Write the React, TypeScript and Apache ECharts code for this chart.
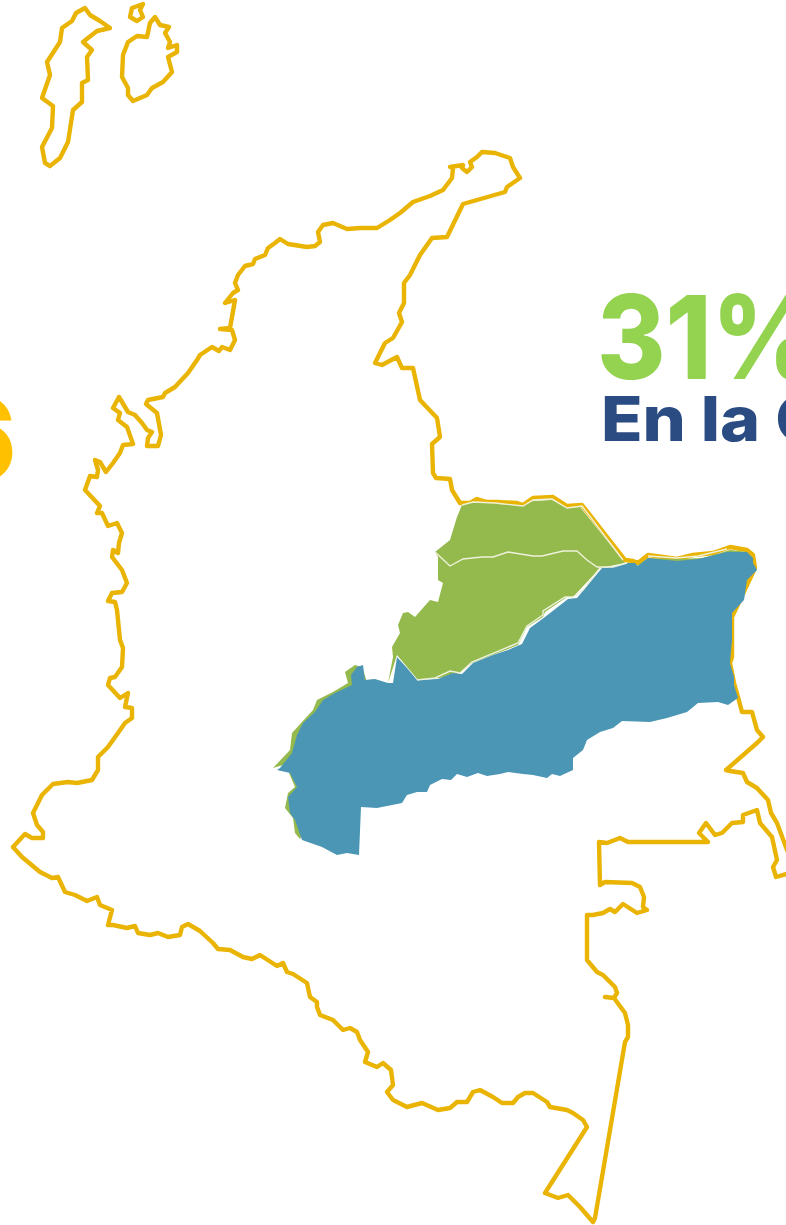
import React, { useEffect, useRef } from "react";
import * as echarts from "echarts";

type P = number[];
const W = 786;
const H = 1225;

const mainland: P[] = [[463,204],[505,192],[507,187],[520,178],[513,167],[510,158],[495,153],[482,152],[477,157],[470,162],[472,167],[467,172],[462,168],[463,165],[450,167],[453,168],[452,178],[443,190],[430,196],[413,202],[400,213],[390,220],[377,228],[360,228],[347,229],[333,223],[323,225],[318,232],[320,242],[315,246],[307,247],[288,244],[280,239],[275,243],[268,248],[265,255],[255,259],[253,264],[245,266],[238,275],[235,283],[238,290],[233,293],[225,303],[235,300],[230,328],[220,329],[232,330],[235,340],[230,350],[222,347],[219,351],[212,347],[200,355],[197,360],[188,373],[175,387],[165,393],[163,397],[148,400],[146,404],[157,413],[161,435],[158,446],[147,446],[148,438],[152,432],[147,430],[142,423],[135,415],[128,412],[119,397],[113,408],[120,413],[118,420],[127,427],[133,444],[123,445],[120,453],[113,463],[106,472],[100,462],[95,460],[98,470],[97,477],[90,476],[85,490],[100,506],[97,513],[102,513],[108,526],[117,523],[122,533],[119,543],[118,553],[113,550],[112,557],[122,570],[127,583],[122,592],[112,593],[108,601],[115,602],[117,610],[120,640],[123,648],[122,667],[115,677],[110,678],[108,685],[120,698],[128,693],[125,707],[132,708],[132,718],[125,723],[118,733],[108,747],[98,757],[98,770],[92,780],[77,783],[68,782],[53,784],[42,795],[33,813],[37,825],[43,832],[43,838],[32,838],[25,834],[13,847],[22,857],[28,862],[40,872],[52,878],[58,877],[65,892],[75,895],[87,901],[97,897],[100,905],[112,910],[108,925],[113,925],[127,928],[135,926],[138,933],[150,935],[158,933],[168,937],[180,935],[182,927],[188,924],[200,931],[213,943],[218,949],[230,950],[243,957],[252,959],[260,955],[277,966],[283,963],[287,972],[293,974],[307,983],[310,997],[317,1002],[317,1007],[320,1015],[333,1020],[343,1030],[350,1028],[357,1032],[360,1040],[368,1052],[365,1062],[377,1067],[383,1063],[391,1070],[393,1085],[387,1092],[393,1100],[407,1107],[422,1103],[438,1110],[450,1108],[457,1102],[467,1102],[473,1092],[480,1090],[493,1097],[502,1103],[513,1103],[518,1097],[525,1093],[533,1093],[547,1102],[550,1107],[567,1110],[573,1113],[583,1120],[587,1127],[545,1193],[558,1198],[568,1195],[580,1207],[593,1222],[595,1218],[625,1042],[628,1037],[628,1025],[625,1013],[614,998],[605,997],[614,998],[617,993],[615,987],[603,975],[597,972],[587,960],[587,915],[593,915],[603,913],[610,909],[615,912],[623,904],[637,913],[647,910],[643,907],[644,897],[640,887],[632,883],[605,882],[600,885],[599,842],[607,843],[620,838],[628,842],[708,842],[699,833],[706,823],[715,835],[722,833],[732,823],[743,822],[743,815],[757,810],[760,823],[772,837],[777,860],[773,867],[776,877],[790,873],[790,858],[777,823],[771,813],[768,800],[757,788],[747,782],[743,773],[730,771],[726,770],[757,743],[763,737],[757,730],[752,712],[742,712],[738,697],[734,683],[730,663],[732,657],[732,617],[755,568],[753,555],[747,550],[730,547],[713,553],[693,555],[677,559],[663,557],[648,555],[638,563],[633,561],[625,560],[582,505],[567,506],[553,497],[533,498],[523,505],[517,503],[497,502],[487,502],[477,499],[470,503],[460,503],[452,490],[450,479],[436,478],[433,473],[432,444],[440,437],[437,418],[420,400],[413,368],[402,368],[397,357],[382,365],[375,363],[385,343],[393,338],[402,322],[399,313],[404,303],[404,283],[410,275],[420,255],[432,238],[447,237]];
const islandWest: P[] = [[85,8],[76,13],[72,21],[62,28],[60,42],[47,62],[50,75],[42,98],[53,106],[52,128],[42,147],[45,163],[50,166],[60,158],[68,142],[73,110],[82,102],[82,83],[88,80],[87,57],[92,50],[83,42],[88,38],[97,31],[110,28],[100,21],[90,15]];
const islandSmall: P[] = [[143,4],[132,8],[130,17],[137,21],[143,17],[140,10]];
const islandEast: P[] = [[155,17],[150,23],[147,37],[137,36],[128,42],[123,55],[122,77],[128,88],[128,95],[133,101],[147,95],[152,88],[163,82],[172,72],[168,57],[177,52],[177,45],[168,48],[170,42],[165,33],[169,27],[160,25]];
const greenArea: P[] = [[462,505],[473,502],[523,506],[533,501],[552,500],[567,508],[580,507],[625,563],[600,568],[573,597],[567,597],[545,612],[543,617],[527,627],[518,645],[472,663],[460,673],[440,678],[418,680],[397,655],[388,683],[393,657],[392,647],[400,633],[398,625],[403,613],[408,612],[415,617],[430,600],[438,602],[443,583],[438,580],[438,557],[435,552],[450,540],[453,530],[457,517]];
const greenSliver: P[] = [[273,768],[290,750],[292,733],[302,722],[313,710],[317,700],[333,692],[348,683],[345,672],[355,665],[362,667],[367,682],[372,679],[380,700],[300,839],[295,833],[293,818],[285,808],[288,793],[295,787],[289,773],[300,760]];
const greenRim: P[] = [[638,565],[648,558],[677,559],[703,558],[730,550],[748,552],[745,560],[640,570]];
const blueArea: P[] = [[280,768],[292,753],[297,735],[303,723],[315,712],[323,700],[335,693],[352,685],[351,675],[357,667],[363,665],[365,680],[375,679],[388,683],[393,683],[397,657],[407,668],[417,680],[438,679],[453,673],[462,674],[473,663],[493,655],[508,650],[522,644],[530,628],[545,617],[568,599],[577,598],[602,568],[613,567],[627,563],[635,563],[638,566],[648,558],[677,561],[698,559],[727,552],[747,552],[753,558],[753,563],[757,570],[747,580],[744,600],[732,613],[732,640],[730,663],[734,677],[734,685],[738,698],[728,705],[718,702],[698,703],[687,712],[667,718],[650,722],[622,721],[613,728],[600,732],[587,740],[583,750],[573,758],[573,770],[560,776],[552,774],[547,778],[533,775],[523,774],[508,772],[500,774],[487,776],[478,773],[467,777],[457,774],[451,780],[442,779],[430,785],[427,792],[417,792],[407,795],[402,803],[392,805],[377,808],[361,807],[359,855],[347,853],[337,855],[322,847],[302,840],[295,820],[290,813],[288,797],[297,787],[290,773],[277,770]];
const whiteTop: P[] = [[462,505],[473,502],[495,503],[523,506],[533,500],[552,499],[567,508],[582,506],[623,560]];
const whiteMiddle: P[] = [[435,552],[450,566],[463,559],[482,557],[493,557],[508,552],[533,556],[542,556],[563,551],[577,551],[587,560],[597,567],[613,567],[627,563]];
const whiteSouth: P[] = [[600,568],[583,590],[573,597],[565,597],[543,611],[543,615],[527,626],[518,643],[472,662],[460,673],[450,671],[435,678],[417,680]];
const whiteEast: P[] = [[648,556],[677,558],[698,556],[727,549]];

const valueTexts = { green: "31%", place: "En la Orinoquía", yellow: "6" };

const toGeo = (pts: P[]) => pts.map(([x, y]) => [x, H - y]);
const ring = (pts: P[]) => {
  const c = toGeo(pts);
  return [...c, c[0]];
};
const feature = (name: string, pts: P[]) => ({
  type: "Feature",
  properties: { name },
  geometry: { type: "Polygon", coordinates: [ring(pts)] },
});

const geoBase = {
  roam: false,
  silent: true,
  aspectScale: 1,
  boundingCoords: [[0, H], [W, 0]],
  left: 0,
  top: 0,
  width: W,
  height: H,
  label: { show: false },
  emphasis: { disabled: true },
  select: { disabled: true },
};

export default function App() {
  const ref = useRef<HTMLDivElement>(null);
  useEffect(() => {
    echarts.registerMap("outline", {
      type: "FeatureCollection",
      features: [
        feature("mainland", mainland),
        feature("islandWest", islandWest),
        feature("islandSmall", islandSmall),
        feature("islandEast", islandEast),
      ],
    } as any);
    echarts.registerMap("regions", {
      type: "FeatureCollection",
      features: [
        feature("greenRim", greenRim),
        feature("greenSliver", greenSliver),
        feature("greenArea", greenArea),
        feature("blueArea", blueArea),
      ],
    } as any);
    const chart = echarts.init(ref.current!, null, { renderer: "svg", width: W, height: H });
    const green = "#94B94D";
    chart.setOption({
      animation: false,
      backgroundColor: "#ffffff",
      geo: [
        {
          ...geoBase,
          map: "outline",
          z: 1,
          itemStyle: { areaColor: "#ffffff", borderColor: "#E9B404", borderWidth: 4.4, borderJoin: "round" },
        },
        {
          ...geoBase,
          map: "regions",
          z: 2,
          itemStyle: { areaColor: green, borderWidth: 0, borderColor: "transparent" },
          regions: [{ name: "blueArea", itemStyle: { areaColor: "#4C96B5", borderWidth: 0 } }],
        },
      ],
      series: [
        {
          type: "lines",
          coordinateSystem: "geo",
          geoIndex: 1,
          polyline: true,
          silent: true,
          z: 5,
          lineStyle: { color: "#EEF2DC", width: 1.4, opacity: 1 },
          data: [whiteTop, whiteMiddle, whiteSouth, whiteEast].map((p) => ({ coords: toGeo(p) })),
        },
      ],
      graphic: [
        {
          type: "text",
          z: 20,
          x: 597,
          y: 395,
          scaleX: 0.9,
          style: { text: valueTexts.green, fill: "#93D34F", font: "800 116px Inter", textAlign: "left", textVerticalAlign: "bottom" },
        },
        {
          type: "text",
          z: 20,
          x: 601,
          y: 450,
          scaleX: 1.1,
          style: { text: valueTexts.place, fill: "#2A4C82", font: "800 62px Inter", textAlign: "left", textVerticalAlign: "bottom" },
        },
        {
          type: "text",
          z: 20,
          x: 17,
          y: 497,
          style: { text: valueTexts.yellow, fill: "#FFC000", font: "800 116px Inter", textAlign: "right", textVerticalAlign: "bottom" },
        },
      ],
    });
    return () => chart.dispose();
  }, []);
  return <div ref={ref} style={{ position: "fixed", left: 0, top: 0, width: W, height: H, overflow: "hidden" }} />;
}
